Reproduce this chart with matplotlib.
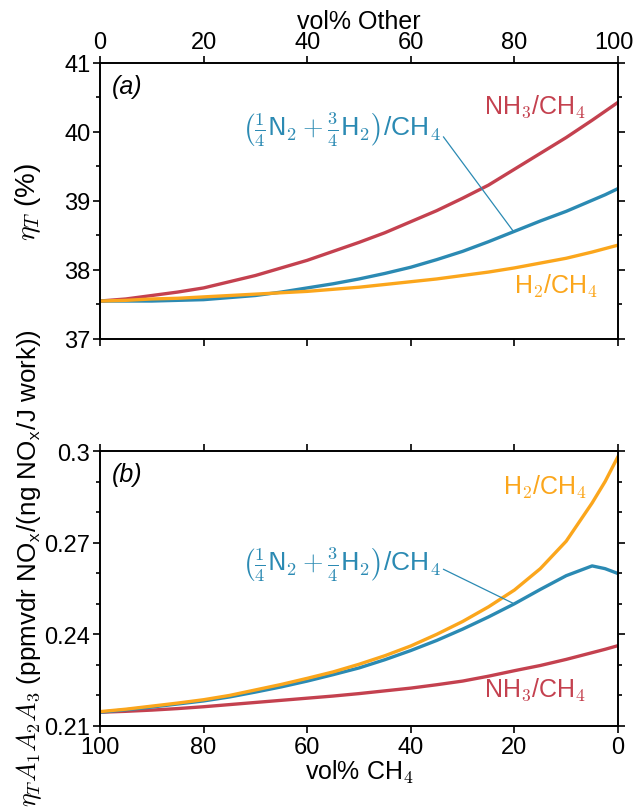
import matplotlib
matplotlib.use("Agg")
import matplotlib.pyplot as plt
from matplotlib.ticker import MultipleLocator
from matplotlib.transforms import ScaledTranslation

plt.rcParams['font.family'] = ['Liberation Sans', 'DejaVu Sans']
plt.rcParams['mathtext.fontset'] = 'cm'

# vol% of the other fuel (vol% CH4 = 100 - other)
other = [0, 5, 10, 15, 20, 25, 30, 35, 40, 45, 50, 55, 60, 65, 70, 75, 80, 85, 90, 95, 97.5, 100]
ch4 = [100 - v for v in other]
xticks = [0, 20, 40, 60, 80, 100]

# (a) thermal efficiency, %
eta_nh3 = [37.55, 37.58, 37.63, 37.68, 37.74, 37.83, 37.92, 38.03, 38.14, 38.27, 38.40,
           38.54, 38.70, 38.86, 39.04, 39.23, 39.46, 39.69, 39.92, 40.17, 40.30, 40.43]
eta_mix = [37.55, 37.55, 37.55, 37.56, 37.57, 37.60, 37.63, 37.68, 37.74, 37.80, 37.87,
           37.95, 38.04, 38.15, 38.27, 38.41, 38.56, 38.71, 38.85, 39.01, 39.09, 39.18]
eta_h2 = [37.55, 37.56, 37.58, 37.59, 37.61, 37.63, 37.65, 37.67, 37.69, 37.72, 37.75,
          37.79, 37.83, 37.87, 37.92, 37.97, 38.03, 38.10, 38.17, 38.26, 38.31, 38.36]

# (b) NOx conversion factor
nox_nh3 = [0.2145, 0.2148, 0.2152, 0.2157, 0.2163, 0.2170, 0.2177, 0.2184, 0.2191, 0.2198, 0.2206,
           0.2215, 0.2224, 0.2235, 0.2247, 0.2263, 0.2281, 0.2298, 0.2318, 0.2340, 0.2351, 0.2363]
nox_mix = [0.2145, 0.2153, 0.2162, 0.2172, 0.2182, 0.2195, 0.2211, 0.2228, 0.2247, 0.2268, 0.2290,
           0.2317, 0.2347, 0.2380, 0.2417, 0.2457, 0.2500, 0.2547, 0.2592, 0.2624, 0.2615, 0.2599]
nox_h2 = [0.2147, 0.2155, 0.2165, 0.2175, 0.2186, 0.2200, 0.2218, 0.2236, 0.2256, 0.2277, 0.2302,
          0.2330, 0.2362, 0.2400, 0.2442, 0.2490, 0.2545, 0.2615, 0.2705, 0.2830, 0.2900, 0.2982]

red = '#C4414F'
blue = '#2B8AB3'
orange = '#FBA61C'
lab_nh3 = r'NH$_\mathsf{3}$/CH$_\mathsf{4}$'
lab_h2 = r'H$_\mathsf{2}$/CH$_\mathsf{4}$'
lab_mix = r'$\left(\frac{1}{4}\mathsf{N}_\mathsf{2}+\frac{3}{4}\mathsf{H}_\mathsf{2}\right)$/CH$_\mathsf{4}$'

fs_tick = 17
fs = 18
fig = plt.figure(figsize=(6.34, 8.12), dpi=100)
ax1 = fig.add_axes([0.1577, 0.5813, 0.8171, 0.3399])
ax2 = fig.add_axes([0.1577, 0.1047, 0.8171, 0.3386])

for ax in (ax1, ax2):
    for s in ax.spines.values():
        s.set_linewidth(1.4)
    ax.tick_params(which='both', direction='out', top=True, right=True,
                   labelsize=fs_tick, width=1.2, pad=2)
    ax.tick_params(which='major', length=5)
    ax.tick_params(which='minor', length=3)
    ax.set_xticks(xticks)

# panel (a)
ax1.plot(other, eta_nh3, color=red, lw=2.4)
ax1.plot(other, eta_mix, color=blue, lw=2.4)
ax1.plot(other, eta_h2, color=orange, lw=2.4)
ax1.set_xlim(0, 100)
ax1.set_ylim(37, 41)
ax1.yaxis.set_major_locator(MultipleLocator(1))
ax1.yaxis.set_minor_locator(MultipleLocator(0.5))
ax1.tick_params(axis='x', labeltop=True, labelbottom=False)
ax1.xaxis.set_label_position('top')
ax1.set_xlabel('vol% Other', fontsize=fs, labelpad=2)
ax1.set_ylabel(r'$\eta_T$ (%)', fontsize=20)
ax1.yaxis.set_label_coords(-0.11, 0.5)
ax1.text(0.022, 0.917, '(a)', transform=ax1.transAxes, fontsize=fs, va='center',
         style='italic')
ax1.text(84, 40.38, lab_nh3, color=red, fontsize=fs, ha='center', va='center')
ax1.text(88, 37.77, lab_h2, color=orange, fontsize=fs, ha='center', va='center')
ax1.annotate(lab_mix, xy=(79.7, 38.57), xytext=(27.4, 40.04), color=blue,
             fontsize=19, ha='left', va='center',
             arrowprops=dict(arrowstyle='-', color=blue, lw=0.9, shrinkA=0, shrinkB=0,
                             relpos=(1.0, 0.4)))

# panel (b)
ax2.plot(ch4, nox_nh3, color=red, lw=2.4)
ax2.plot(ch4, nox_mix, color=blue, lw=2.4)
ax2.plot(ch4, nox_h2, color=orange, lw=2.4)
ax2.set_xlim(100, 0)
ax2.set_ylim(0.21, 0.30)
ax2.yaxis.set_minor_locator(MultipleLocator(0.01))
ax2.set_yticks([0.21, 0.24, 0.27, 0.30])
ax2.set_yticklabels(['0.21', '0.24', '0.27', '0.3'])
ax2.set_xlabel(r'vol% CH$_\mathsf{4}$', fontsize=fs, labelpad=0)
ax2.set_ylabel(r'$\eta_T A_1 A_2 A_3$ (ppmvdr NO$_\mathsf{x}$/(ng NO$_\mathsf{x}$/J work))',
               fontsize=18.7)
ax2.yaxis.set_label_coords(-0.108, 0.578)
ax2.text(0.022, 0.917, '(b)', transform=ax2.transAxes, fontsize=fs, va='center',
         style='italic')
ax2.text(14.1, 0.2885, lab_h2, color=orange, fontsize=fs, ha='center', va='center')
ax2.text(16, 0.2221, lab_nh3, color=red, fontsize=fs, ha='center', va='center')
ax2.annotate(lab_mix, xy=(20.3, 0.2502), xytext=(72.6, 0.263), color=blue,
             fontsize=19, ha='left', va='center',
             arrowprops=dict(arrowstyle='-', color=blue, lw=0.9, shrinkA=0, shrinkB=0,
                             relpos=(1.0, 0.4)))

# pull the "100" on the top axis in a little so it stays inside the figure
fig.canvas.draw()
t100 = ax1.xaxis.get_major_ticks()[-1]
t100.label2.set_transform(t100.label2.get_transform()
                          + ScaledTranslation(-4 / 100, 0, fig.dpi_scale_trans))

fig.savefig('out.png', dpi=100)
